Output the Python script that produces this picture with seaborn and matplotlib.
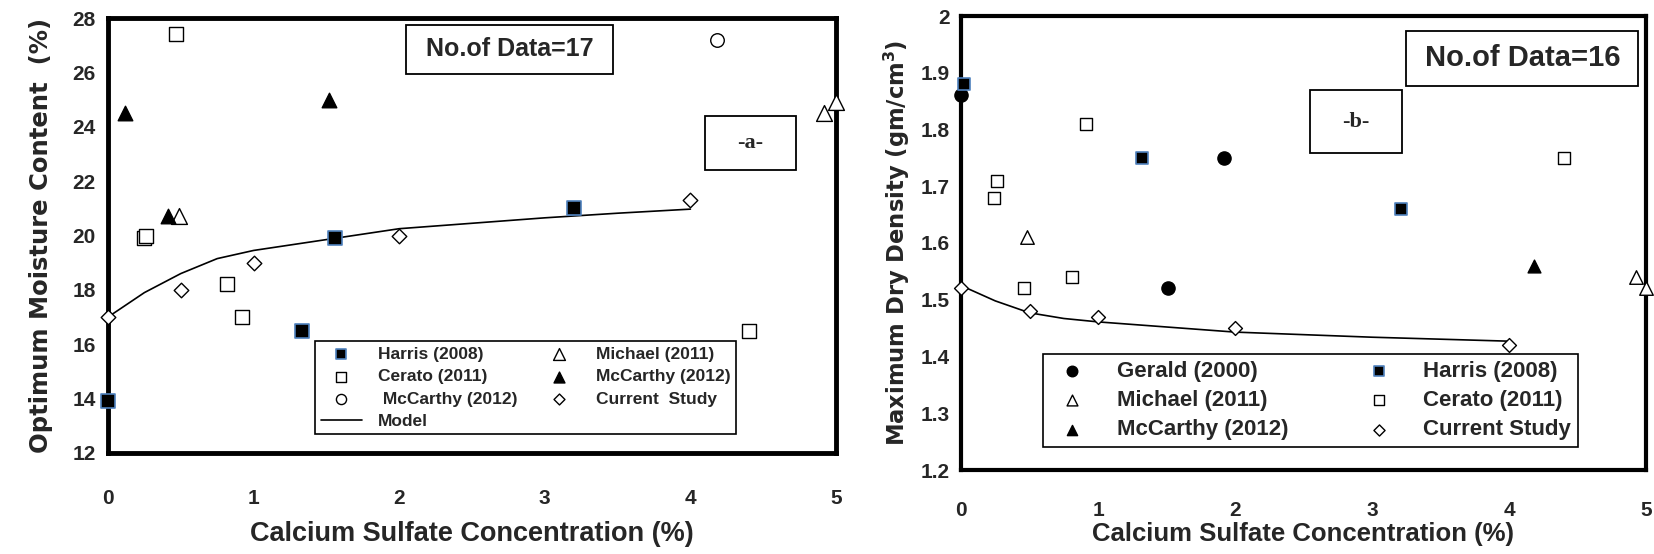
import matplotlib
matplotlib.use("Agg")
import matplotlib.pyplot as plt
from matplotlib.patches import Rectangle
import seaborn as sns
import pandas as pd

# ---------- data: panel a (optimum moisture content) ----------
harris_a_x = [0.0, 1.33, 1.56, 3.2]
harris_a_y = [13.9, 16.5, 19.9, 21.0]
cerato_a_x = [0.25, 0.26, 0.47, 0.82, 0.92, 4.4]
cerato_a_y = [19.9, 20.0, 27.4, 18.2, 17.0, 16.5]
mccarthy_circ_x = [4.18]
mccarthy_circ_y = [27.2]
michael_a_x = [0.49, 4.92, 5.0]
michael_a_y = [20.7, 24.5, 24.9]
mccarthy_a_x = [0.12, 0.41, 1.52]
mccarthy_a_y = [24.5, 20.7, 25.0]
current_a_x = [0, 0.5, 1, 2, 4]
current_a_y = [17.0, 18.0, 19.0, 20.0, 21.3]
model_a_x = [0, 0.25, 0.5, 0.75, 1.0, 1.5, 2.0, 2.5, 3.0, 3.5, 4.0]
model_a_y = [17.0, 17.9, 18.6, 19.15, 19.45, 19.85, 20.25, 20.45, 20.65, 20.82, 20.97]

# ---------- data: panel b (maximum dry density) ----------
gerald_b_x = [0.0, 1.51, 1.92]
gerald_b_y = [1.86, 1.52, 1.75]
harris_b_x = [0.02, 1.32, 3.21]
harris_b_y = [1.88, 1.75, 1.66]
michael_b_x = [0.48, 4.93, 5.0]
michael_b_y = [1.61, 1.54, 1.52]
cerato_b_x = [0.26, 0.24, 0.46, 0.81, 0.91, 4.4]
cerato_b_y = [1.71, 1.68, 1.52, 1.54, 1.81, 1.75]
mccarthy_b_x = [4.18]
mccarthy_b_y = [1.56]
current_b_x = [0, 0.5, 1, 2, 4]
current_b_y = [1.52, 1.48, 1.47, 1.45, 1.42]
model_b_x = [0, 0.25, 0.5, 0.75, 1.0, 1.5, 2.0, 3.0, 4.0]
model_b_y = [1.525, 1.498, 1.477, 1.467, 1.461, 1.452, 1.443, 1.434, 1.427]

xticks = [0, 1, 2, 3, 4, 5]
yticks_a = [12, 14, 16, 18, 20, 22, 24, 26, 28]
yticks_b = [1.2, 1.3, 1.4, 1.5, 1.6, 1.7, 1.8, 1.9, 2.0]
yticklabels_b = ["1.2", "1.3", "1.4", "1.5", "1.6", "1.7", "1.8", "1.9", "2"]

sns.set_style("white")
plt.rcParams["font.family"] = ["Liberation Sans", "DejaVu Sans"]
plt.rcParams["font.weight"] = "bold"

fig = plt.figure(figsize=(16.54, 5.54), dpi=100)
ax1 = fig.add_axes([108 / 1654, 101 / 554, 728 / 1654, 435 / 554])
ax2 = fig.add_axes([961 / 1654, 84 / 554, 685 / 1654, 454 / 554])

edge_blue = "#4F81BD"


def scat(ax, x, y, marker, face, edge, label, size, lw=1.0):
    df = pd.DataFrame({"x": x, "y": y})
    sns.scatterplot(data=df, x="x", y="y", ax=ax, marker=marker, s=size,
                    facecolor=face, edgecolor=edge, linewidth=lw, label=label,
                    clip_on=False, zorder=3)


def boxed_text(ax, x0, y0, w, h, txt, **kw):
    ax.add_patch(Rectangle((x0, y0), w, h, transform=ax.transAxes, fc="white",
                           ec="black", lw=1.3, zorder=2))
    ax.text(x0 + w / 2, y0 + h / 2, txt, transform=ax.transAxes, ha="center",
            va="center", zorder=2.5, **kw)


# ---------- panel a ----------
scat(ax1, harris_a_x, harris_a_y, "s", "black", edge_blue, "Harris (2008)", 95, 1.2)
scat(ax1, cerato_a_x, cerato_a_y, "s", "white", "black", "Cerato (2011)", 100)
scat(ax1, mccarthy_circ_x, mccarthy_circ_y, "o", "white", "black", " McCarthy (2012)", 95)
scat(ax1, michael_a_x, michael_a_y, "^", "white", "black", "Michael (2011)", 130)
scat(ax1, mccarthy_a_x, mccarthy_a_y, "^", "black", "black", "McCarthy (2012)", 110)
scat(ax1, current_a_x, current_a_y, "D", "white", "black", "Current  Study", 55)
sns.lineplot(x=model_a_x, y=model_a_y, ax=ax1, color="black", lw=1.2, label="Model")

h, l = ax1.get_legend_handles_labels()
order = [0, 1, 2, 6, 3, 4, 5]
leg1 = ax1.legend([h[i] for i in order], [l[i] for i in order], ncol=2,
                  loc="lower left", bbox_to_anchor=(0.273, 0.023, 0.601, 0.23),
                  mode="expand", fancybox=False, edgecolor="black", framealpha=1,
                  borderpad=0.3, labelspacing=0.42, handletextpad=0.9, handlelength=2.4,
                  markerscale=0.75, prop={"weight": "bold", "size": 12.5})
leg1.get_frame().set_linewidth(1.2)

ax1.set_xlim(0, 5)
ax1.set_ylim(12, 28)
ax1.set_xticks(xticks)
ax1.set_yticks(yticks_a)
ax1.tick_params(axis="x", direction="in", length=7, width=2, pad=26, labelsize=15)
ax1.tick_params(axis="y", direction="out", length=5, width=2, pad=4, labelsize=15)
ax1.set_xlabel("Calcium Sulfate Concentration (%)", fontsize=19.5, fontweight="bold", labelpad=9)
ax1.set_ylabel("Optimum Moisture Content  (%)", fontsize=17.5, fontweight="bold",
               family="DejaVu Sans", labelpad=14)
for sp in ax1.spines.values():
    sp.set_linewidth(3.5)
    sp.set_color("black")

boxed_text(ax1, 0.410, 0.872, 0.283, 0.112, "No.of Data=17", fontsize=18, fontweight="bold")
boxed_text(ax1, 0.820, 0.651, 0.125, 0.124, "-a-", fontsize=16, fontweight="bold",
           family="Liberation Serif")

# ---------- panel b ----------
scat(ax2, gerald_b_x, gerald_b_y, "o", "black", "black", "Gerald (2000)", 90)
scat(ax2, michael_b_x, michael_b_y, "^", "white", "black", "Michael (2011)", 95)
scat(ax2, mccarthy_b_x, mccarthy_b_y, "^", "black", "black", "McCarthy (2012)", 85)
scat(ax2, harris_b_x, harris_b_y, "s", "black", edge_blue, "Harris (2008)", 80, 1.2)
scat(ax2, cerato_b_x, cerato_b_y, "s", "white", "black", "Cerato (2011)", 80)
scat(ax2, current_b_x, current_b_y, "D", "white", "black", "Current Study", 50)
sns.lineplot(x=model_b_x, y=model_b_y, ax=ax2, color="black", lw=1.2, legend=False)

h2, l2 = ax2.get_legend_handles_labels()
leg2 = ax2.legend(h2[:6], l2[:6], ncol=2, loc="lower left",
                  bbox_to_anchor=(0.104, 0.026, 0.813, 0.223), mode="expand",
                  fancybox=False, edgecolor="black", framealpha=1,
                  borderpad=0.3, labelspacing=0.38, handletextpad=1.0,
                  markerscale=0.8, prop={"weight": "bold", "size": 16})
leg2.get_frame().set_linewidth(1.2)

ax2.set_xlim(0, 5)
ax2.set_ylim(1.2, 2.0)
ax2.set_xticks(xticks)
ax2.set_yticks(yticks_b)
ax2.set_yticklabels(yticklabels_b)
ax2.tick_params(axis="x", direction="in", length=7, width=2, pad=22, labelsize=15)
ax2.tick_params(axis="y", direction="in", length=6, width=2, pad=8, labelsize=15)
ax2.set_xlabel("Calcium Sulfate Concentration (%)", fontsize=18.5, fontweight="bold", labelpad=2)
ax2.set_ylabel("Maximum Dry Density (gm/cm$^\\mathregular{3}$)", fontsize=16.3,
               fontweight="bold", family="DejaVu Sans", labelpad=6)
for sp in ax2.spines.values():
    sp.set_linewidth(3)
    sp.set_color("black")

boxed_text(ax2, 0.650, 0.846, 0.339, 0.121, "No.of Data=16", fontsize=21, fontweight="bold")
boxed_text(ax2, 0.510, 0.698, 0.134, 0.139, "-b-", fontsize=16, fontweight="bold",
           family="Liberation Serif")

fig.savefig("out.png", dpi=100)
